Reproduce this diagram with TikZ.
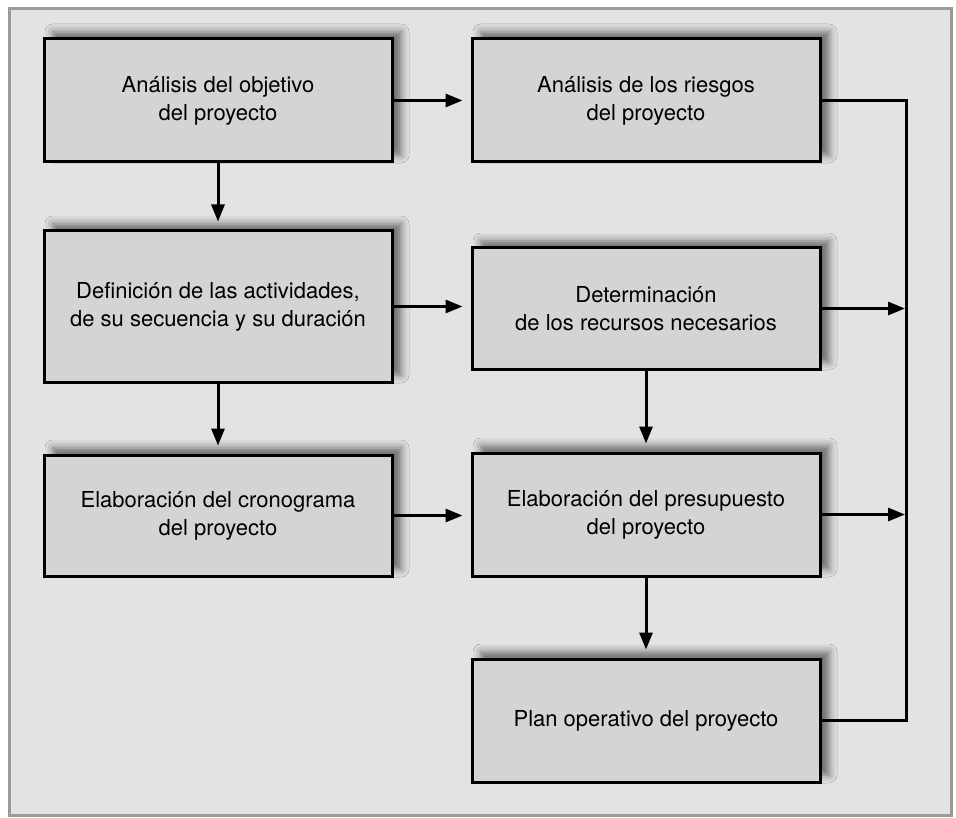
\documentclass[tikz,border=0pt]{standalone}
\usepackage{fontspec}
\setmainfont{TeX Gyre Heros}
\usetikzlibrary{arrows.meta,shadows.blur}
\definecolor{bgc}{HTML}{E3E3E3}
\definecolor{boxfill}{HTML}{D4D4D4}
\definecolor{framec}{HTML}{9A9A9A}
\begin{document}
\begin{tikzpicture}[x=1pt,y=-1pt,
  box/.style={draw=black, line width=3pt, fill=boxfill, align=center,
    minimum width=348pt, inner sep=0pt,
    font=\fontsize{22}{28}\selectfont,
    blur shadow={shadow xshift=9pt, shadow yshift=7pt, shadow blur radius=8pt, shadow opacity=55}},
  conn/.style={line width=3pt, -{Triangle[length=17pt,width=13pt]}, shorten >=8pt},
  connr/.style={line width=3pt, -{Triangle[length=17pt,width=13pt]}, shorten >=1pt},
  plain/.style={line width=3pt}]
\path[use as bounding box, fill=white] (0,0) rectangle (956,818);
\draw[framec, line width=3pt, fill=bgc] (9.5,8.5) rectangle (951.5,815.5);

\node[box, minimum height=123pt] (b1) at (218,100.5) {Análisis del objetivo\\del proyecto};
\node[box, minimum height=123pt] (b2) at (646,100.5) {Análisis de los riesgos\\del proyecto};
\node[box, minimum height=151pt] (b3) at (218,306.5) {Definición de las actividades,\\de su secuencia y su duración};
\node[box, minimum height=121pt] (b4) at (646,308.5) {Determinación\\de los recursos necesarios};
\node[box, minimum height=121pt] (b5) at (218,515.5) {Elaboración del cronograma\\del proyecto};
\node[box, minimum height=123pt] (b6) at (646,514.5) {Elaboración del presupuesto\\del proyecto};
\node[box, minimum height=123pt] (b7) at (646,720.5) {Plan operativo del proyecto};

\coordinate (rt) at (906,100.5);
\coordinate (rb) at (906,720.5);

\draw[conn] (b1.east) -- (b2.west);
\draw[conn] (b1.south) -- (b3.north);
\draw[conn] (b3.east) -- (b3.east -| b4.west);
\draw[conn] (b3.south) -- (b5.north);
\draw[conn] (b5.east) -- (b5.east -| b6.west);
\draw[conn] (b4.south) -- (b6.north);
\draw[conn] (b6.south) -- (b7.north);
\draw[plain] (b2.east) -- (rt) -- (rb) -- (b7.east);
\draw[connr] (b4.east) -- (b4.east -| rt);
\draw[connr] (b6.east) -- (b6.east -| rt);
\end{tikzpicture}
\end{document}
